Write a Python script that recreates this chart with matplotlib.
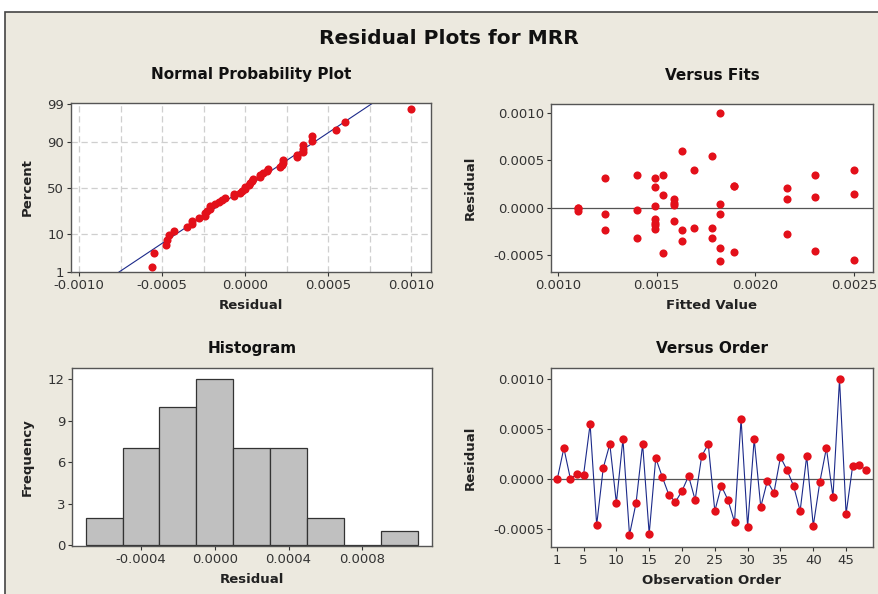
import matplotlib
matplotlib.use("Agg")
import matplotlib.pyplot as plt
import numpy as np
from statistics import NormalDist

# residuals in observation order
residuals = [0.0, 0.00031, 0.0, 0.00005, 0.00004, 0.00055, -0.00046, 0.00011,
             0.00035, -0.00024, 0.0004, -0.00056, -0.00024, 0.00035, -0.00055, 0.00021,
             0.00002, -0.00016, -0.00023, -0.00012, 0.00003, -0.00021, 0.00023, 0.00035,
             -0.00032, -0.00007, -0.00021, -0.00043, 0.0006, -0.00048, 0.0004, -0.00028,
             -0.00002, -0.00014, 0.00022, 0.00009, -0.00007, -0.00032, 0.00023, -0.00047,
             -0.00003, 0.00031, -0.00018, 0.001, -0.00035, 0.00013, 0.00014, 0.00009]
fitted = [0.00110, 0.00124, 0.00110, 0.00159, 0.00182, 0.00178, 0.00230, 0.00230,
          0.00140, 0.00124, 0.00169, 0.00182, 0.00163, 0.00153, 0.00250, 0.00216,
          0.00149, 0.00149, 0.00149, 0.00149, 0.00159, 0.00169, 0.00189, 0.00230,
          0.00140, 0.00124, 0.00178, 0.00182, 0.00163, 0.00153, 0.00250, 0.00216,
          0.00140, 0.00159, 0.00149, 0.00159, 0.00182, 0.00178, 0.00189, 0.00189,
          0.00110, 0.00149, 0.00149, 0.00182, 0.00163, 0.00153, 0.00250, 0.00216]
hist_bins = [-0.0007, -0.0005, -0.0003, -0.0001, 0.0001, 0.0003, 0.0005, 0.0007, 0.0009, 0.0011]
pct_ticks = [1, 10, 50, 90, 99]

res = np.array(residuals)
fit = np.array(fitted)
obs = np.arange(1, len(res) + 1)

bg = "#ECE9DF"
red = "#E3101A"
navy = "#1C2A8A"
txt = "#333333"

plt.rcParams["font.family"] = "DejaVu Sans"

fig = plt.figure(figsize=(8.79, 5.94), dpi=100, facecolor="white")
# beige panel with thin border, white strip on top like the screenshot
fig.patches.append(plt.Rectangle((5 / 879, -0.01), 1.0, (594 - 12) / 594 + 0.01,
                                 transform=fig.transFigure, facecolor=bg,
                                 edgecolor="#444444", linewidth=1.2, zorder=-10))

fig.text(0.511, 1 - 38 / 594, "Residual Plots for MRR", ha="center", va="center",
         fontsize=14.5, fontweight="bold", color="#111111")


def style(ax, title, xlabel, ylabel, tpad, ypad):
    ax.set_facecolor("white")
    for s in ax.spines.values():
        s.set_color("#555555")
        s.set_linewidth(1.0)
    ax.tick_params(labelsize=9.5, colors=txt, length=3, width=0.8, pad=2)
    ax.set_title(title, fontsize=11, fontweight="bold", color="#111111", pad=tpad)
    ax.set_xlabel(xlabel, fontsize=9.5, fontweight="bold", color="#222222", labelpad=5)
    ax.set_ylabel(ylabel, fontsize=9.5, fontweight="bold", color="#222222", labelpad=ypad)


# Normal probability plot
ax1 = fig.add_axes([71 / 879, 1 - 272 / 594, 360 / 879, 169 / 594])
nd = NormalDist()
n = len(res)
srt = np.sort(res)
pp = (np.arange(1, n + 1) - 0.3) / (n + 0.4)
zz = np.array([nd.inv_cdf(p) for p in pp])
ylo = nd.inv_cdf(0.01)
yhi = nd.inv_cdf(0.99) + 0.02
for gx in np.arange(-0.001, 0.00101, 0.00025):
    ax1.axvline(gx, color="#CFCFCF", linestyle=(0, (5, 3)), linewidth=0.9, zorder=1)
for gp in [10, 50, 90]:
    ax1.axhline(nd.inv_cdf(gp / 100), color="#CFCFCF", linestyle=(0, (5, 3)), linewidth=0.9, zorder=1)
mu = res.mean()
sd = res.std(ddof=1)
zl = np.linspace(ylo - 1, yhi + 1, 50)
ax1.plot(mu + sd * zl, zl, color=navy, linewidth=0.8, zorder=2)
ax1.scatter(srt, zz, s=34, color=red, zorder=3, linewidths=0)
ax1.set_xlim(-0.00105, 0.00112)
ax1.set_ylim(ylo, yhi)
ax1.set_yticks([nd.inv_cdf(p / 100) for p in pct_ticks])
ax1.set_yticklabels([str(p) for p in pct_ticks])
ax1.set_xticks([-0.001, -0.0005, 0, 0.0005, 0.001])
ax1.set_xticklabels(["-0.0010", "-0.0005", "0.0000", "0.0005", "0.0010"])
style(ax1, "Normal Probability Plot", "Residual", "Percent", 17, 10)

# Versus fits
ax2 = fig.add_axes([551 / 879, 1 - 272 / 594, 322 / 879, 168 / 594])
ax2.axhline(0, color="#555555", linewidth=0.9, zorder=1)
ax2.scatter(fit, res, s=34, color=red, zorder=3, linewidths=0)
ax2.set_xlim(0.000965, 0.002595)
ax2.set_ylim(-0.000679, 0.001095)
ax2.set_xticks([0.001, 0.0015, 0.002, 0.0025])
ax2.set_xticklabels(["0.0010", "0.0015", "0.0020", "0.0025"])
ax2.set_yticks([-0.0005, 0, 0.0005, 0.001])
ax2.set_yticklabels(["-0.0005", "0.0000", "0.0005", "0.0010"])
style(ax2, "Versus Fits", "Fitted Value", "Residual", 17, 12)

# Histogram
ax3 = fig.add_axes([72 / 879, 1 - 546 / 594, 360 / 879, 178 / 594])
ax3.hist(res, bins=hist_bins, color="#C0C0C0", edgecolor="#333333", linewidth=0.9, zorder=2)
ax3.set_xlim(-0.000774, 0.001178)
ax3.set_ylim(-0.05, 12.8)
ax3.set_yticks([0, 3, 6, 9, 12])
ax3.set_xticks([-0.0004, 0, 0.0004, 0.0008])
ax3.set_xticklabels(["-0.0004", "0.0000", "0.0004", "0.0008"])
style(ax3, "Histogram", "Residual", "Frequency", 10.5, 10)

# Versus order
ax4 = fig.add_axes([551 / 879, 1 - 547 / 594, 322 / 879, 179 / 594])
ax4.axhline(0, color="#555555", linewidth=0.9, zorder=1)
ax4.plot(obs, res, color=navy, linewidth=0.8, zorder=2)
ax4.plot(obs, res, "o", color=red, markersize=6, markeredgewidth=0, zorder=3)
ax4.set_xlim(0.04, 49.1)
ax4.set_ylim(-0.000682, 0.001113)
ax4.set_xticks([1, 5, 10, 15, 20, 25, 30, 35, 40, 45])
ax4.set_yticks([-0.0005, 0, 0.0005, 0.001])
ax4.set_yticklabels(["-0.0005", "0.0000", "0.0005", "0.0010"])
style(ax4, "Versus Order", "Observation Order", "Residual", 10.5, 12)

fig.savefig("out.png", dpi=100, facecolor=fig.get_facecolor())
